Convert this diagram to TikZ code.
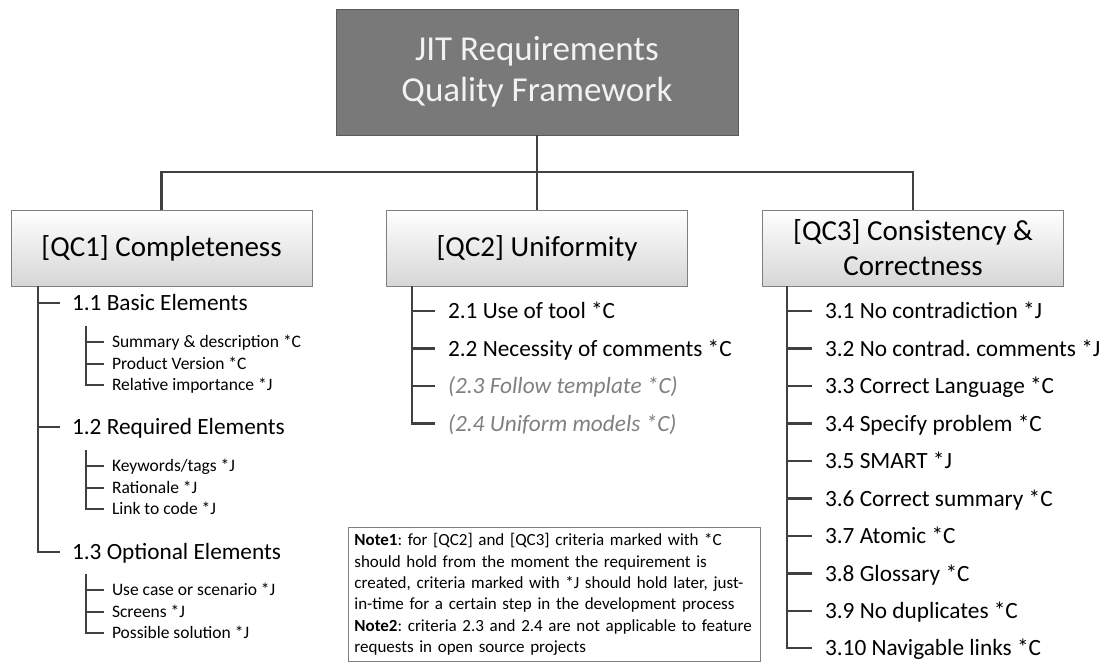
\documentclass[tikz,border=0pt]{standalone}
\usepackage{fontspec}
\setmainfont{Carlito}
\frenchspacing
\hyphenpenalty=10000
\exhyphenpenalty=10000
\definecolor{topfill}{HTML}{797979}
\definecolor{topborder}{HTML}{5A5A5A}
\definecolor{toptext}{HTML}{F2F2F2}
\definecolor{qcborder}{HTML}{7F7F7F}
\definecolor{qcbottom}{HTML}{D6D6D6}
\definecolor{conncol}{HTML}{404040}
\definecolor{greytext}{HTML}{808080}
\definecolor{notegray}{HTML}{808080}
\begin{document}
\begin{tikzpicture}[x=1pt,y=-1pt,
  topbox/.style={draw=topborder, fill=topfill, line width=0.8pt, minimum width=402pt, minimum height=126pt, inner sep=0pt, align=center, text=toptext, font=\fontsize{35}{41}\selectfont},
  qcbox/.style={draw=qcborder, line width=0.8pt, top color=white, bottom color=qcbottom, minimum width=301pt, minimum height=76pt, inner sep=0pt, align=center, font=\fontsize{29}{35}\selectfont},
  conn/.style={draw=conncol, line width=2.8pt},
  subline/.style={draw=conncol, line width=2pt},
  item/.style={anchor=west, inner xsep=13pt, inner ysep=0pt, outer sep=0pt, text height=17.5pt, text depth=2.47pt, font=\fontsize{23.3}{27}\selectfont},
  subitem/.style={anchor=west, inner xsep=8pt, inner ysep=0pt, outer sep=0pt, text height=13.1pt, text depth=1.86pt, font=\fontsize{17.5}{21}\selectfont},
  greyitem/.style={text=greytext, font=\fontsize{23.3}{27}\selectfont\itshape},
  notebox/.style={draw=notegray, line width=0.8pt, text width=400pt, inner xsep=6pt, inner ysep=4pt, minimum height=134pt, align=left, font=\fontsize{17}{21.3}\selectfont}
]
\useasboundingbox[fill=white] (0,0) rectangle (1106,664);

% top and category boxes
\node[topbox] (top) at (537,72) {JIT Requirements\\Quality Framework};
\node[qcbox] (qc1) at (161.5,248) {[QC1] Completeness};
\node[qcbox] (qc2) at (537,248) {[QC2] Uniformity};
\node[qcbox] (qc3) at (913,248) {[QC3] Consistency \&\\Correctness};

\coordinate (hub) at (537,172);
\draw[conn] (top.south) -- (qc2.north);
\draw[conn] (qc1.north) |- (hub) -| (qc3.north);

% ---------- QC1 list
\node[item, inner xsep=12pt] (l11) at (60,303) {1.1 Basic Elements};
\node[item, inner xsep=12pt] (l12) at (60,427) {1.2 Required Elements};
\node[item, inner xsep=12pt] (l13) at (60,552) {1.3 Optional Elements};

\node[subitem] (s11) at (104,342) {Summary \& description *C};
\node[subitem] (s12) at (104,363.5) {Product Version *C};
\node[subitem] (s13) at (104,385) {Relative importance *J};
\node[subitem] (s21) at (104,466) {Keywords/tags *J};
\node[subitem] (s22) at (104,487.5) {Rationale *J};
\node[subitem] (s23) at (104,509) {Link to code *J};
\node[subitem] (s31) at (104,590) {Use case or scenario *J};
\node[subitem] (s32) at (104,611.5) {Screens *J};
\node[subitem] (s33) at (104,633) {Possible solution *J};

\coordinate (lt) at (38,286);
\draw[conn] (lt) |- (l13.west);
\draw[conn] (lt |- l11.west) -- (l11.west);
\draw[conn] (lt |- l12.west) -- (l12.west);

\coordinate (t1) at (86,326);
\coordinate (t2) at (86,450);
\coordinate (t3) at (86,574);
\draw[subline] (t1) |- (s13.west);
\draw[subline] (t1 |- s11.west) -- (s11.west);
\draw[subline] (t1 |- s12.west) -- (s12.west);
\draw[subline] (t2) |- (s23.west);
\draw[subline] (t2 |- s21.west) -- (s21.west);
\draw[subline] (t2 |- s22.west) -- (s22.west);
\draw[subline] (t3) |- (s33.west);
\draw[subline] (t3 |- s31.west) -- (s31.west);
\draw[subline] (t3 |- s32.west) -- (s32.west);

% ---------- QC2 list
\node[item] (m1) at (435,311) {2.1 Use of tool *C};
\node[item] (m2) at (435,348.5) {2.2 Necessity of comments *C};
\node[item, greyitem] (m3) at (435,386) {(2.3 Follow template *C)};
\node[item, greyitem] (m4) at (435,423.5) {(2.4 Uniform models *C)};
\coordinate (mt) at (412,286);
\draw[conn] (mt) |- (m4.west);
\draw[conn] (mt |- m1.west) -- (m1.west);
\draw[conn] (mt |- m2.west) -- (m2.west);
\draw[conn] (mt |- m3.west) -- (m3.west);

% ---------- QC3 list
\node[item] (r1) at (812,311) {3.1 No contradiction *J};
\node[item] (r2) at (812,348.5) {3.2 No contrad. comments *J};
\node[item] (r3) at (812,386) {3.3 Correct Language *C};
\node[item] (r4) at (812,423.5) {3.4 Specify problem *C};
\node[item] (r5) at (812,461) {3.5 SMART *J};
\node[item] (r6) at (812,498.5) {3.6 Correct summary *C};
\node[item] (r7) at (812,536) {3.7 Atomic *C};
\node[item] (r8) at (812,573.5) {3.8 Glossary *C};
\node[item] (r9) at (812,611) {3.9 No duplicates *C};
\node[item] (r10) at (812,648) {3.10 Navigable links *C};
\coordinate (rt) at (787,286);
\draw[conn] (rt) |- (r10.west);
\foreach \n in {r1,r2,r3,r4,r5,r6,r7,r8,r9}
  \draw[conn] (rt |- \n.west) -- (\n.west);

% ---------- note
\node[notebox, anchor=north west] (note) at (348,527) {\textbf{Note1}: for [QC2] and [QC3] criteria marked with *C\\
should hold from the moment the requirement is\\
created, criteria marked with *J should hold later, just-\\
in-time for a certain step in the development process\\
\textbf{Note2}: criteria 2.3 and 2.4 are not applicable to feature\\
requests in open source projects};
\end{tikzpicture}
\end{document}
